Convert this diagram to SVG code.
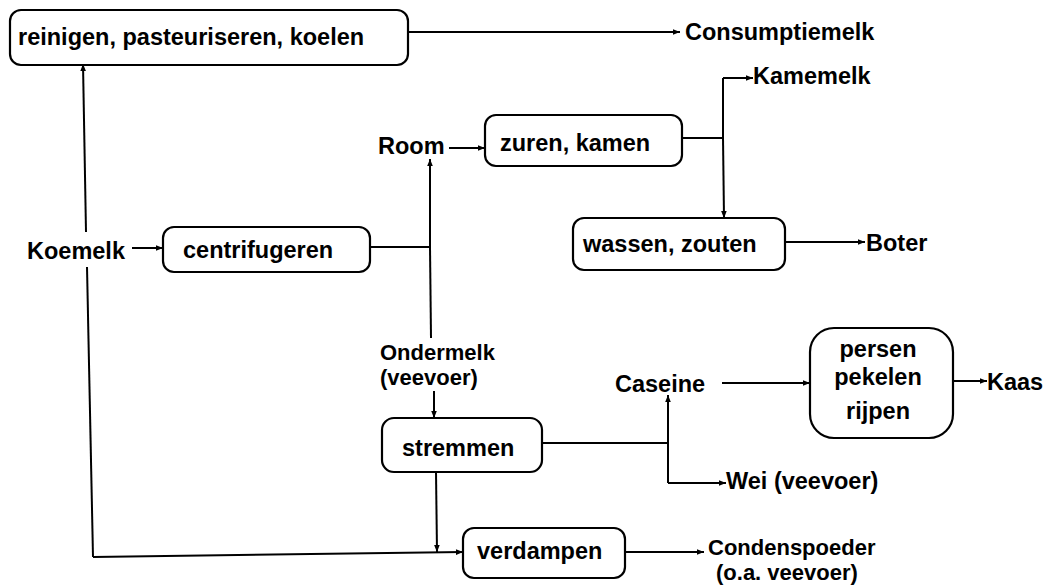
<svg xmlns="http://www.w3.org/2000/svg" width="1051" height="588" viewBox="0 0 1051 588">
<style>
.t{font-family:"Liberation Sans",Arial,sans-serif;font-weight:bold;font-size:23.5px;fill:#000}
.s{font-size:22px}
.m{text-anchor:middle}
.b{fill:#fff;stroke:#000;stroke-width:2.2}
.c{fill:none;stroke:#000;stroke-width:2}
.a{marker-end:url(#ah)}
</style>
<defs>
<marker id="ah" viewBox="0 0 10 10" refX="10" refY="5" markerWidth="9" markerHeight="7" markerUnits="userSpaceOnUse" orient="auto">
<path d="M0,1 L10,5 L0,9 z" fill="#000"/>
</marker>
</defs>
<rect width="1051" height="588" fill="#fff"/>
<g id="connectors">
<line class="c a" x1="408" y1="32" x2="680" y2="32"/>
<line class="c a" x1="86" y1="232" x2="83" y2="64"/>
<line class="c" x1="87" y1="267" x2="93" y2="557"/>
<line class="c a" x1="93" y1="557" x2="463" y2="552"/>
<line class="c a" x1="132" y1="248" x2="163" y2="248"/>
<line class="c" x1="370" y1="247" x2="430" y2="247"/>
<line class="c a" x1="430" y1="247" x2="430" y2="159"/>
<line class="c" x1="430" y1="247" x2="431" y2="338"/>
<line class="c a" x1="449" y1="148" x2="485" y2="148"/>
<line class="c" x1="682" y1="138" x2="723" y2="138"/>
<line class="c a" x1="723" y1="78" x2="753" y2="78"/>
<line class="c" x1="723" y1="138" x2="723" y2="78"/>
<line class="c a" x1="723" y1="138" x2="724" y2="218"/>
<line class="c a" x1="785" y1="242" x2="865" y2="242"/>
<line class="c a" x1="434" y1="391" x2="434" y2="418"/>
<line class="c" x1="542" y1="443" x2="668" y2="443"/>
<line class="c a" x1="668" y1="443" x2="668" y2="395"/>
<line class="c" x1="668" y1="443" x2="668" y2="483"/>
<line class="c a" x1="668" y1="483" x2="726" y2="483"/>
<line class="c a" x1="722" y1="383" x2="810" y2="383"/>
<line class="c a" x1="953" y1="381" x2="987" y2="381"/>
<line class="c a" x1="436" y1="472" x2="437" y2="552"/>
<line class="c a" x1="625" y1="552" x2="704" y2="552"/>
</g>
<g id="reinigen">
<rect class="b" x="10" y="10" width="398" height="55" rx="11"/>
<text class="t" x="18" y="45">reinigen, pasteuriseren, koelen</text>
</g>
<g id="consumptiemelk"><text class="t" x="685" y="40">Consumptiemelk</text></g>
<g id="kamemelk"><text class="t" x="753" y="84">Kamemelk</text></g>
<g id="room"><text class="t" x="378" y="154">Room</text></g>
<g id="zuren">
<rect class="b" x="485" y="115" width="197" height="51" rx="11"/>
<text class="t" x="500" y="151">zuren, kamen</text>
</g>
<g id="wassen">
<rect class="b" x="573" y="218" width="212" height="52" rx="11"/>
<text class="t" x="583" y="252">wassen, zouten</text>
</g>
<g id="boter"><text class="t" x="866" y="251">Boter</text></g>
<g id="koemelk"><text class="t" x="27" y="259">Koemelk</text></g>
<g id="centrifugeren">
<rect class="b" x="163" y="227" width="207" height="45" rx="11"/>
<text class="t" x="183" y="258">centrifugeren</text>
</g>
<g id="ondermelk">
<text class="t s" x="380" y="360">Ondermelk</text>
<text class="t s" x="380" y="385">(veevoer)</text>
</g>
<g id="stremmen">
<rect class="b" x="382" y="418" width="160" height="54" rx="12"/>
<text class="t" x="402" y="456">stremmen</text>
</g>
<g id="caseine"><text class="t" x="615" y="392">Caseine</text></g>
<g id="persen">
<rect class="b" x="810" y="328" width="143" height="110" rx="24"/>
<text class="t m" x="878" y="357">persen</text>
<text class="t m" x="878" y="385">pekelen</text>
<text class="t m" x="878" y="419">rijpen</text>
</g>
<g id="kaas"><text class="t" x="987" y="390">Kaas</text></g>
<g id="wei"><text class="t" x="726" y="489">Wei (veevoer)</text></g>
<g id="verdampen">
<rect class="b" x="463" y="528" width="162" height="50" rx="11"/>
<text class="t" x="477" y="559">verdampen</text>
</g>
<g id="condenspoeder">
<text class="t s" x="708" y="555">Condenspoeder</text>
<text class="t s" x="716" y="580">(o.a. veevoer)</text>
</g>
</svg>
